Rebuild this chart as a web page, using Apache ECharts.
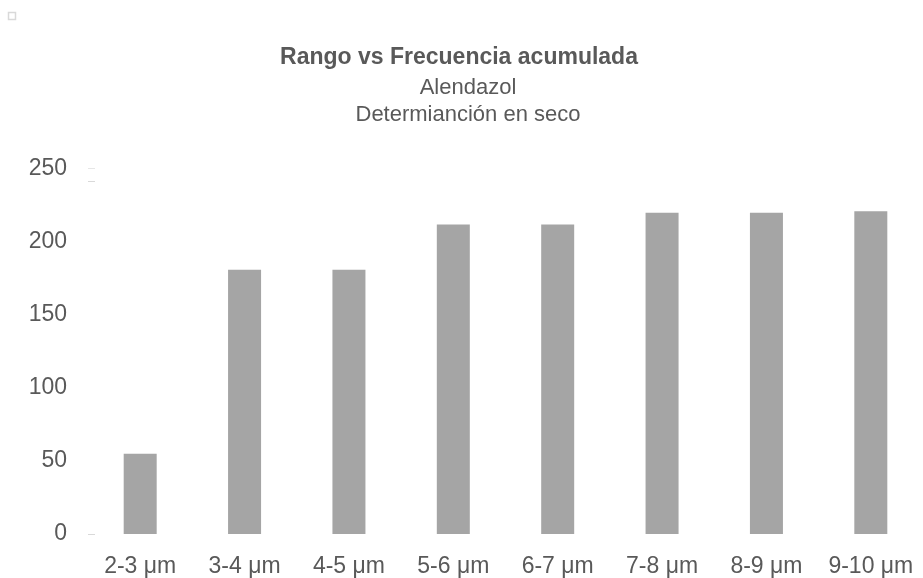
<!DOCTYPE html>
<html>
<head>
<meta charset="utf-8">
<script src="https://cdn.jsdelivr.net/npm/echarts@6/dist/echarts.min.js"></script>
<style>html,body{margin:0;padding:0;background:#fff;}#c{width:923px;height:578px;}</style>
</head>
<body>
<div id="c"></div>
<script>
const categories = ['2-3 μm','3-4 μm','4-5 μm','5-6 μm','6-7 μm','7-8 μm','8-9 μm','9-10 μm'];
const values = [55, 181, 181, 212, 212, 220, 220, 221];
const yTicks = [0, 50, 100, 150, 200, 250];
const titleText = 'Rango vs Frecuencia acumulada';
const subLines = ['Alendazol', 'Determianción en seco'];

const font = '"Liberation Sans", Arial, Helvetica, sans-serif';
const chart = echarts.init(document.getElementById('c'), null, {renderer: 'canvas'});
chart.setOption({
  backgroundColor: '#ffffff',
  animation: false,
  grid: {left: 88, right: -6, top: 169, bottom: 44, containLabel: false},
  xAxis: {
    type: 'category',
    data: categories,
    axisLine: {show: false},
    axisTick: {show: false},
    axisLabel: {color: '#595959', fontSize: 23, fontFamily: font, margin: 21, interval: 0}
  },
  yAxis: {
    type: 'value',
    min: yTicks[0],
    max: yTicks[yTicks.length - 1],
    interval: 50,
    splitLine: {show: false},
    axisLine: {show: false},
    axisTick: {show: false},
    axisLabel: {color: '#595959', fontSize: 23, fontFamily: font, margin: 21, padding: [4, 0, 0, 0]}
  },
  series: [{
    type: 'bar',
    data: values,
    barWidth: 33,
    itemStyle: {color: '#A5A5A5'}
  }],
  graphic: [
    {type: 'text', x: 459, y: 58, style: {text: titleText, fill: '#595959', font: 'bold 23px ' + font, align: 'center', verticalAlign: 'middle'}},
    {type: 'text', x: 468, y: 88, style: {text: subLines[0], fill: '#595959', font: '22px ' + font, align: 'center', verticalAlign: 'middle'}},
    {type: 'text', x: 468, y: 115, style: {text: subLines[1], fill: '#595959', font: '22px ' + font, align: 'center', verticalAlign: 'middle'}},
    {type: 'rect', shape: {x: 8.5, y: 12.5, width: 7, height: 7}, style: {fill: '#fff', stroke: '#D9D9D9', lineWidth: 1.5}},
    {type: 'line', shape: {x1: 88, y1: 534.5, x2: 95, y2: 534.5}, style: {stroke: '#D9D9D9', lineWidth: 1}},
    {type: 'line', shape: {x1: 88, y1: 168.5, x2: 95, y2: 168.5}, style: {stroke: '#E6E6E6', lineWidth: 1}},
    {type: 'line', shape: {x1: 88, y1: 181.5, x2: 95, y2: 181.5}, style: {stroke: '#D9D9D9', lineWidth: 1}}
  ]
});
</script>
</body>
</html>
